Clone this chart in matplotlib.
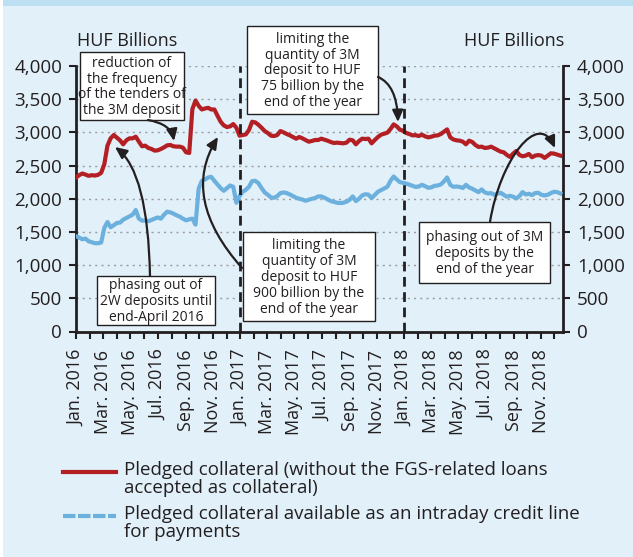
import pandas as pd
import matplotlib.pyplot as plt
from matplotlib.patches import Rectangle, FancyArrowPatch
from matplotlib.path import Path
from matplotlib.lines import Line2D
from matplotlib.ticker import FuncFormatter

plt.rcParams['font.family'] = ['Open Sans', 'DejaVu Sans']

# weekly values, HUF billions
pledged = [
    2320, 2355, 2380, 2365, 2345, 2355, 2350, 2360, 2390, 2520,
    2800, 2910, 2960, 2920, 2880, 2820, 2880, 2910, 2910, 2935,
    2860, 2790, 2800, 2765, 2750, 2725, 2730, 2750, 2775, 2805,
    2810, 2790, 2785, 2785, 2770, 2700, 2690, 3350, 3480, 3400,
    3345, 3360, 3370, 3345, 3345, 3250, 3160, 3105, 3080, 3090,
    3125, 3070, 2950, 2960, 2970, 3035, 3160, 3150, 3115, 3070,
    3020, 2990, 2950, 2945, 2960, 3020, 3000, 2975, 2955, 2930,
    2905, 2930, 2910, 2885, 2860, 2870, 2885, 2885, 2905, 2890,
    2875, 2855, 2840, 2845, 2840, 2835, 2845, 2890, 2880, 2820,
    2870, 2905, 2900, 2905, 2835, 2885, 2930, 2965, 2980, 2995,
    3050, 3120, 3090, 3040, 3025, 2990, 2975, 2955, 2958, 2945,
    2965, 2940, 2925, 2935, 2950, 2955, 2975, 3010, 3045, 2925,
    2893, 2880, 2875, 2860, 2820, 2875, 2855, 2810, 2780, 2785,
    2765, 2770, 2785, 2760, 2735, 2710, 2700, 2660, 2630, 2680,
    2720, 2660, 2640, 2650, 2675, 2625, 2650, 2658, 2650, 2615,
    2650, 2685, 2680, 2665, 2650,
]
intraday = [
    1435, 1415, 1390, 1400, 1360, 1345, 1330, 1330, 1340, 1560,
    1650, 1570, 1600, 1635, 1640, 1685, 1710, 1735, 1760, 1830,
    1700, 1670, 1672, 1662, 1680, 1700, 1718, 1700, 1760, 1805,
    1795, 1775, 1750, 1730, 1700, 1675, 1690, 1700, 1610, 2150,
    2270, 2290, 2320, 2330, 2270, 2215, 2160, 2120, 2160, 2200,
    2180, 1940, 2040, 2105, 2135, 2180, 2265, 2270, 2235, 2160,
    2095, 2060, 2020, 2015, 2040, 2085, 2095, 2085, 2065, 2040,
    2015, 2000, 1988, 1970, 1985, 2000, 2010, 2035, 2035, 2015,
    1990, 1965, 1952, 1940, 1935, 1940, 1955, 1985, 2035, 1965,
    2000, 2050, 2068, 2062, 2010, 2058, 2105, 2130, 2155, 2180,
    2270, 2335, 2290, 2250, 2240, 2228, 2212, 2195, 2178, 2185,
    2210, 2190, 2165, 2172, 2195, 2200, 2215, 2260, 2320, 2210,
    2180, 2185, 2178, 2162, 2210, 2170, 2150, 2125, 2100, 2140,
    2095, 2080, 2085, 2060, 2075, 2090, 2060, 2030, 2045, 2030,
    2005, 2040, 2100, 2065, 2075, 2055, 2085, 2090, 2060, 2050,
    2060, 2085, 2105, 2100, 2080,
]
dates = pd.date_range('2016-01-01', periods=len(pledged), freq='7D')

month_ticks = pd.date_range('2016-01-01', '2018-12-01', freq='MS')
month_labels = [
    'Jan. 2016', '', 'Mar. 2016', '', 'May. 2016', '', 'Jul. 2016', '',
    'Sep. 2016', '', 'Nov. 2016', '',
    'Jan. 2017', '', 'Mar. 2017', '', 'May. 2017', '', 'Jul. 2017', '',
    'Sep. 2017', '', 'Nov. 2017', '',
    'Jan. 2018', '', 'Mar. 2018', '', 'May. 2018', '', 'Jul. 2018', '',
    'Sep. 2018', '', 'Nov. 2018', '',
]
regime_changes = ['2017-01-01', '2018-01-01']

series_labels = [
    'Pledged collateral (without the FGS-related loans\naccepted as collateral)',
    'Pledged collateral available as an intraday credit line\nfor payments',
]

RED = '#b41f24'
BLUE = '#6cb0de'
INK = '#231f20'
BG = '#e1f0f9'

W, H = 633, 557
fig = plt.figure(figsize=(W / 100, H / 100), dpi=100, facecolor=BG)


def px(x, y):
    # pixel position (from top-left) -> figure fraction
    return (x / W, 1 - y / H)


# frame decorations
fig.add_artist(Rectangle(px(0, 6), 1, 6 / H, transform=fig.transFigure,
                         facecolor='#bcdff2', edgecolor='none'))
fig.add_artist(Rectangle((0, 0), 3 / W, 1, transform=fig.transFigure,
                         facecolor='white', edgecolor='none'))

ax = fig.add_axes([76 / W, 1 - 331.5 / H, (563 - 76) / W, (331.5 - 66) / H])
ax.set_facecolor('none')

ax.plot(dates, intraday, color=BLUE, lw=3, solid_joinstyle='round', zorder=3)
ax.plot(dates, pledged, color=RED, lw=3, solid_joinstyle='round', zorder=3)

for d in regime_changes:
    ax.axvline(pd.Timestamp(d), color=INK, lw=2, ls=(0, (3.5, 2)), zorder=4)

ax.set_ylim(0, 4000)
ax.set_xlim(pd.Timestamp('2016-01-01'), pd.Timestamp('2018-12-20'))
ax.set_yticks(range(0, 4001, 500))
ax.yaxis.set_major_formatter(FuncFormatter(lambda v, p: f'{v:,.0f}'))
ax.yaxis.grid(True, color='#9c9c9c', lw=1, ls=(0, (1.5, 3)))
ax.set_axisbelow(True)

ax.set_xticks(month_ticks)
ax.set_xticklabels(month_labels, rotation=90, fontsize=13, color=INK)
ax.tick_params(axis='x', length=5, width=1.5, color=INK, pad=8)
ax.yaxis.set_ticks_position('both')
ax.tick_params(axis='y', length=5, width=1.5, color=INK, labelsize=13.5,
               labelcolor=INK, labelright=True, pad=5)

for side in ['left', 'right', 'bottom']:
    ax.spines[side].set_linewidth(2)
    ax.spines[side].set_color(INK)
ax.spines['top'].set_visible(False)

fig.text(*px(77, 41), 'HUF Billions', fontsize=13, color=INK,
         ha='left', va='center')
fig.text(*px(564, 41), 'HUF Billions', fontsize=13, color=INK,
         ha='right', va='center')

# annotation boxes: (left, top, right, bottom) in pixels, text
notes = [
    ((80, 52, 184, 120), 'reduction of\nthe frequency\nof the tenders of\nthe 3M deposit'),
    ((247, 26, 378, 114), 'limiting the\nquantity of 3M\ndeposit to HUF\n75 billion by the\nend of the year'),
    ((243, 232, 375, 321), 'limiting the\nquantity of 3M\ndeposit to HUF\n900 billion by the\nend of the year'),
    ((97, 276, 215, 325), 'phasing out of\n2W deposits until\nend-April 2016'),
    ((419, 222, 550, 283), 'phasing out of 3M\ndeposits by the\nend of the year'),
]
for (l, t, r, b), txt in notes:
    fig.add_artist(Rectangle(px(l, b), (r - l) / W, (b - t) / H,
                             transform=fig.transFigure, facecolor='white',
                             edgecolor=INK, lw=1, zorder=5))
    fig.text(*px((l + r) / 2, (t + b) / 2 + 1), txt, fontsize=10, color=INK,
             ha='center', va='center', multialignment='center',
             linespacing=1.08, zorder=6)

# curved arrows (pixel control points)
arrows = [
    [(148, 120), (171, 124), (174, 141)],
    [(150, 276), (148, 172), (115, 147)],
    [(242, 268), (180, 198), (218, 137)],
    [(378, 77), (397, 85), (398, 122)],
    [(490, 222), (500, 160), (538, 110), (555, 148)],
]
for pts in arrows:
    verts = [px(x, y) for x, y in pts]
    codes = [Path.MOVETO] + [Path.CURVE3 if len(pts) == 3 else Path.CURVE4] * (len(pts) - 1)
    arr = FancyArrowPatch(path=Path(verts, codes),
                          arrowstyle='-|>,head_length=0.7,head_width=0.32',
                          mutation_scale=10, lw=1.6, color=INK,
                          transform=fig.transFigure, zorder=7)
    fig.add_artist(arr)

# legend
fig.add_artist(Line2D([63 / W, 116 / W], [px(0, 472)[1]] * 2, color=RED, lw=3,
                      transform=fig.transFigure))
fig.add_artist(Line2D([63 / W, 116 / W], [px(0, 516)[1]] * 2, color=BLUE, lw=3,
                      ls=(0, (3, 0.6)), transform=fig.transFigure))
fig.text(*px(124, 461), series_labels[0], fontsize=13.5, color=INK,
         ha='left', va='top', linespacing=1.02)
fig.text(*px(124, 505), series_labels[1], fontsize=13.5, color=INK,
         ha='left', va='top', linespacing=1.02)

fig.savefig('out.png', dpi=100, facecolor=BG)
